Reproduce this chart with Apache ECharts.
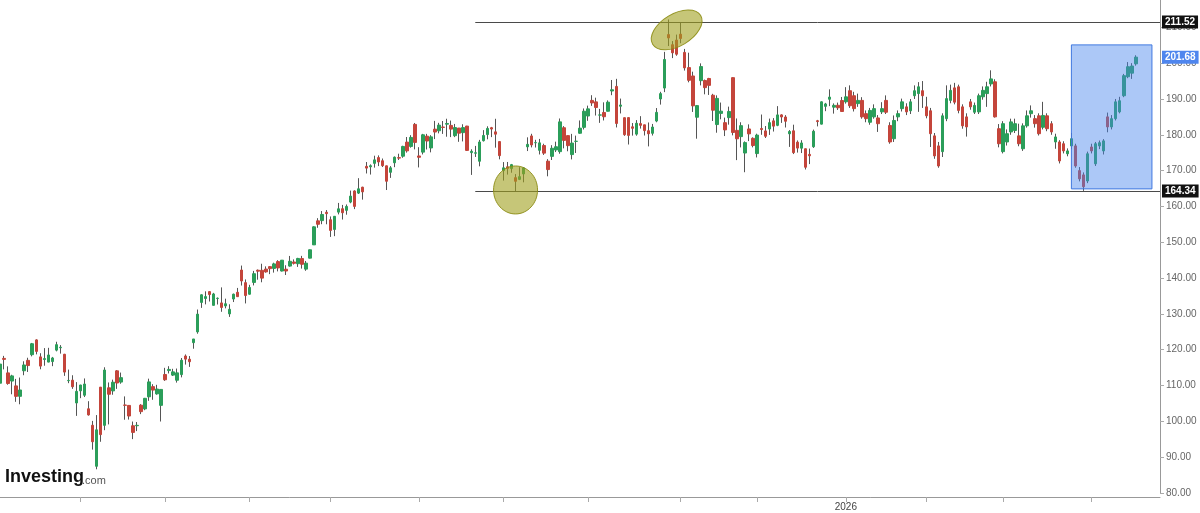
<!DOCTYPE html>
<html>
<head>
<meta charset="utf-8">
<script src="https://cdn.jsdelivr.net/npm/echarts@6/dist/echarts.min.js"></script>
<style>
html,body{margin:0;padding:0;background:#fff;}
#chart{width:1200px;height:513px;}
</style>
</head>
<body>
<div id="chart"></div>
<script>
// Daily candles [open, high, low, close]
const mar25 = [
[110.65,119.31,110.11,115.99],[117.58,118.28,114.51,117.30],[113.53,115.35,110.22,110.57],[111.25,113.00,107.56,112.69],
[109.90,111.85,105.46,106.98],[106.99,112.23,104.77,108.76],[114.12,116.77,112.88,115.74],[117.03,117.76,113.79,115.58],
[118.61,121.89,118.15,121.67],[122.74,122.90,118.70,119.53],[118.00,119.02,114.54,115.43],[117.27,120.45,115.53,117.52],
[116.55,120.53,116.50,118.53],[116.70,117.99,115.41,117.70],[119.88,122.22,119.54,121.41],[120.55,121.29,118.91,120.69],
[118.73,118.84,112.70,113.76],[111.35,114.45,110.66,111.43],[111.49,112.87,109.07,109.67],[105.13,110.96,101.53,108.38]];
const apr25 = [
[108.52,110.20,106.47,110.15],[107.29,111.98,106.79,110.42],[103.51,105.63,101.60,101.80],[98.91,100.13,92.11,94.31],
[87.46,101.75,86.62,97.64],[109.55,109.60,94.30,96.30],[98.89,115.10,97.53,114.33],[109.37,110.86,99.15,107.57],
[108.50,111.65,107.43,110.93],[114.11,114.29,109.07,110.71],[110.97,113.62,110.50,112.20],[104.55,106.97,100.45,104.49],
[104.45,104.47,100.50,101.49],[98.77,99.95,95.04,96.91],[98.78,99.81,97.28,98.89],[104.52,104.80,102.02,102.71],
[103.48,106.54,103.11,106.43],[106.85,111.92,105.73,111.01],[109.69,110.37,106.02,108.73],[107.67,110.20,107.44,109.02],
[104.47,108.92,99.96,108.92]];
const may25 = [
[113.08,114.94,111.30,111.61],[114.18,115.40,113.37,114.50],[112.91,114.67,112.66,113.82],[111.48,114.74,110.82,113.54],
[113.05,117.68,112.28,117.06],[118.25,118.68,115.85,117.37],[117.35,118.23,115.21,116.65],[121.97,123.00,120.28,123.00],
[124.98,131.22,124.47,129.93],[133.20,135.44,131.68,135.34],[134.30,136.30,132.66,134.83],[136.22,136.35,133.46,135.40],
[132.39,135.87,132.39,135.57],[134.29,134.58,132.62,134.38],[133.06,137.40,130.59,131.80],[132.23,134.25,131.55,132.83],
[130.00,132.68,129.16,131.29],[134.15,135.66,133.31,135.50],[136.03,137.25,134.79,134.81],[142.25,143.49,137.91,139.19],
[138.72,139.62,132.92,135.13]];
const jun25 = [
[135.49,138.12,135.40,137.38],[138.78,142.00,137.95,141.22],[142.19,142.39,139.55,141.92],[142.17,144.00,138.83,139.99],
[142.51,143.27,141.51,141.72],[143.19,143.28,141.10,142.63],[142.69,144.29,141.53,143.96],[144.61,144.99,141.87,142.83],
[141.97,145.00,141.85,145.00],[142.48,143.58,140.85,141.97],[143.35,146.18,143.20,144.69],[144.49,145.22,143.78,144.12],
[144.01,145.65,143.12,145.48],[145.45,146.20,142.65,143.85],[142.50,144.78,142.03,144.17],[145.56,147.96,145.50,147.90],
[149.27,154.45,149.26,154.31],[155.98,156.72,154.04,155.02],[156.04,158.71,155.04,157.75],[158.37,158.99,155.02,157.99]];
const jul25 = [
[156.29,157.20,151.49,153.30],[153.57,157.30,151.70,157.25],[158.41,160.98,157.78,159.34],[159.36,160.43,156.34,158.24],
[158.91,160.55,157.69,160.00],[161.22,164.42,160.89,162.88],[164.32,164.50,159.25,160.00],[163.72,167.89,163.47,164.92],
[165.37,165.49,161.90,164.07],[171.19,172.40,169.20,170.70],[171.06,171.75,168.90,171.37],[172.02,174.16,170.83,173.00],
[173.64,174.25,171.26,172.41],[172.75,173.38,171.00,171.38],[171.34,171.39,164.58,167.03],[169.53,171.26,167.97,170.78],
[172.19,173.95,170.96,173.74],[173.61,174.72,172.96,173.50],[174.02,176.94,173.58,176.75],[177.96,179.38,175.02,175.51],
[176.75,179.89,176.41,179.27],[182.90,183.30,175.93,177.87]];
const aug25 = [
[174.09,176.54,170.89,173.72],[175.16,180.26,174.52,180.00],[179.62,180.26,175.90,178.26],[176.33,179.89,175.10,179.42],
[181.57,183.88,178.80,180.77],[181.12,183.34,180.40,182.70],[182.16,183.85,180.25,182.06],[182.96,184.48,179.46,183.16],
[182.62,183.97,179.35,181.59],[179.75,183.03,179.35,182.02],[181.88,181.90,178.04,180.45],[180.60,182.94,178.15,182.01],
[182.43,182.50,175.49,175.64],[175.02,175.96,168.80,175.40],[174.85,176.90,173.81,174.98],[172.61,178.58,171.20,177.99],
[178.35,181.30,178.12,179.81],[180.06,182.37,178.74,181.77],[181.98,182.20,179.35,181.60],[180.82,184.47,176.41,180.17],
[178.11,178.15,173.15,174.18]];
const sep25 = [
[170.00,172.38,167.22,170.78],[171.06,172.41,168.89,170.62],[170.57,171.86,169.41,171.66],[168.03,169.03,164.30,167.02],
[167.55,170.96,167.35,168.31],[169.08,170.98,166.73,170.76],[176.64,179.29,175.46,177.33],[179.68,180.28,176.48,177.17],
[177.77,178.60,176.45,177.82],[175.67,178.85,174.51,177.75],[177.00,177.50,174.38,174.88],[172.64,173.20,168.41,170.29],
[173.98,177.10,172.96,176.24],[175.77,178.08,175.18,176.67],[175.30,184.55,174.71,183.61],[181.97,182.42,176.21,178.43],
[179.77,179.78,175.40,176.97],[174.48,180.26,173.13,177.69],[178.17,179.77,174.93,178.19],[180.43,184.00,180.32,181.85],
[182.08,187.35,181.48,186.58]];
const oct25 = [
[185.24,188.14,183.90,187.24],[189.60,191.05,188.06,188.89],[189.19,190.36,185.38,187.62],[185.50,187.23,183.33,185.54],
[186.23,189.06,184.00,185.04],[186.57,189.60,186.54,189.11],[192.23,195.30,191.06,192.57],[193.51,195.62,182.05,183.16],
[187.97,190.11,185.96,188.32],[184.77,184.80,179.70,180.03],[184.80,184.87,177.29,179.83],[182.23,183.28,179.77,181.81],
[180.18,184.10,179.75,183.22],[183.13,185.20,181.73,182.64],[182.79,182.79,179.80,181.16],[181.14,183.44,176.76,180.28],
[180.42,183.03,179.79,182.16],[183.84,187.47,183.50,186.26],[189.99,192.00,188.43,191.49],[193.05,203.15,191.91,201.03],
[207.98,212.19,204.78,207.04],[205.15,206.16,201.41,202.89],[206.45,207.97,202.07,202.49]];
const nov25 = [
[208.08,211.34,205.56,206.88],[203.00,203.97,197.93,198.69],[198.76,202.92,194.65,195.21],[196.42,197.62,186.38,188.08],
[184.90,188.32,178.91,188.15],[195.11,199.94,193.79,199.05],[195.16,195.42,191.30,193.16],[195.72,195.89,191.13,193.80],
[191.05,191.44,183.85,186.86],[182.86,191.01,180.58,190.17],[185.97,189.00,184.32,186.60],[183.38,184.80,179.65,181.36],
[184.79,187.86,182.83,186.52],[195.95,196.00,179.85,180.64],[181.24,184.56,172.93,178.88],[179.49,183.50,176.48,182.55],
[174.91,178.16,169.55,177.82],[181.63,182.91,178.24,180.26],[179.01,179.29,176.50,177.00]];
const dec25 = [
[174.76,180.30,173.68,179.92],[181.76,185.66,180.00,181.46],[181.08,182.45,179.11,179.59],[181.62,184.52,179.96,183.38],
[183.89,184.66,180.91,182.41],[182.64,188.00,182.40,185.55],[185.56,185.72,183.32,184.97],[184.97,185.48,182.04,183.78],
[180.28,181.32,176.62,180.93],[181.11,182.82,174.62,175.02],[177.94,178.42,175.03,176.29],[176.26,178.49,174.90,177.72],
[176.10,176.13,170.31,170.94],[174.53,176.15,171.82,174.14],[176.67,181.45,176.34,180.99],[183.92,184.16,182.35,183.69],
[182.97,189.33,182.90,189.21],[187.94,188.91,186.59,188.61],[189.92,192.69,188.00,190.53],[187.71,188.76,185.91,188.22],
[188.24,188.99,186.93,187.54],[189.57,190.56,186.49,186.50]];
const jan26 = [
[189.2,193.3,188.7,190.6],[192.3,193.8,187.5,188.1],[190.9,192.0,186.5,187.3],[188.7,191.5,187.8,189.6],
[189.6,190.5,184.5,185.0],[185.9,186.8,183.5,184.5],[183.5,187.5,182.8,186.8],[185.0,188.5,184.5,187.3],
[184.7,185.5,180.8,183.1],[186.4,189.1,185.8,187.3],[189.6,191.0,185.8,186.3],[182.6,183.5,177.5,178.0],
[178.9,185.4,178.0,184.0],[185.0,186.8,183.8,185.9],[187.3,190.1,186.5,189.2],[187.8,188.8,185.5,186.4],
[186.7,190.0,185.8,189.2],[190.9,193.8,190.0,192.3],[191.5,194.7,186.4,193.4],[192.3,195.0,187.5,190.9]];
const feb26 = [
[187.8,190.6,184.6,185.3],[186.7,187.5,176.6,180.3],[179.7,180.5,173.3,174.1],[176.9,178.0,170.8,171.3],
[175.3,186.0,173.8,185.3],[184.5,193.8,183.8,190.1],[189.6,194.0,188.8,192.4],[193.1,194.5,188.5,189.1],
[193.4,194.0,186.0,186.8],[187.8,188.5,181.7,182.5],[185.0,186.0,179.5,182.2],[189.2,190.0,187.0,187.8],
[186.3,189.0,185.8,188.2],[186.4,191.5,185.8,190.9],[190.6,193.5,189.8,192.4],[191.5,194.8,187.8,193.4],
[194.2,198.0,193.5,195.6],[194.8,195.5,184.8,185.0],[181.7,183.0,176.5,177.5]];
const mar26 = [
[175.3,183.8,174.8,183.1],[178.0,181.5,177.0,180.3],[180.8,184.5,180.0,183.6],[181.2,184.5,180.5,183.1],
[179.7,183.1,176.8,177.5],[176.1,183.2,175.5,182.5],[182.5,186.8,182.0,185.3],[185.9,188.2,184.8,186.7],
[184.5,185.5,182.0,183.1],[185.3,186.0,179.8,180.3],[182.1,189.2,181.5,185.4],[185.3,186.0,181.0,181.7],
[183.1,183.8,180.0,180.8],[178.0,180.3,176.1,179.4],[178.0,178.5,172.0,172.7],[177.5,178.2,174.8,175.5],
[174.7,176.2,174.0,175.5],[176.9,180.5,176.0,178.9],[176.9,177.5,170.8,171.3],[170.0,171.0,167.0,167.7],
[168.8,169.5,164.34,165.5],[167.1,175.3,166.5,174.7]];
const apr26 = [
[176.6,177.5,174.8,175.5],[171.9,178.0,171.3,177.5],[176.9,178.4,176.0,177.8],[175.5,178.8,174.5,178.3],
[185.0,186.2,180.7,182.2],[182.2,185.5,181.5,184.5],[184.5,190.0,184.0,189.2],[186.4,190.6,186.0,189.5],
[190.9,197.0,190.5,196.5],[196.2,200.3,195.8,199.0],[197.2,200.0,195.6,199.2],[199.8,202.2,199.3,201.68]];

// Annotation levels
const resistance = 211.52;
const support = 164.34;
const lastPrice = 201.68;
const yTicks = [80, 90, 100, 110, 120, 130, 140, 150, 160, 170, 180, 190, 200, 210];

// Trading calendar (weekdays, exchange holidays removed), plus a few empty slots on the right
const holidays = ['2025-04-18','2025-05-26','2025-06-19','2025-07-04','2025-09-01','2025-11-27','2025-12-25',
                  '2026-01-01','2026-01-19','2026-02-16','2026-04-03'];
const firstDay = '2025-03-04';
const slotCount = 289;

const ohlc = [].concat(mar25, apr25, may25, jun25, jul25, aug25, sep25, oct25, nov25, dec25, jan26, feb26, mar26, apr26);

function pad(n){return n<10?'0'+n:''+n;}
const dates = [];
{
  const d = new Date(firstDay + 'T12:00:00Z');
  while (dates.length < slotCount) {
    const wd = d.getUTCDay();
    const s = d.getUTCFullYear() + '-' + pad(d.getUTCMonth()+1) + '-' + pad(d.getUTCDate());
    if (wd !== 0 && wd !== 6 && holidays.indexOf(s) < 0) dates.push(s);
    d.setUTCDate(d.getUTCDate() + 1);
  }
}
const monthStart = new Set();
for (let i = 1; i < dates.length; i++) {
  if (dates[i].slice(0,7) !== dates[i-1].slice(0,7)) monthStart.add(i);
}
const yearStart = new Set();
for (let i = 1; i < dates.length; i++) {
  if (dates[i].slice(0,4) !== dates[i-1].slice(0,4)) yearStart.add(i);
}

// ECharts candlestick order: [open, close, low, high]
const wickData = ohlc.map(r => [r[0], r[3], r[2], r[1]]);
const bodyData = ohlc.map(r => [r[0], r[3], Math.min(r[0], r[3]), Math.max(r[0], r[3])]);

const UP = '#2b9e5a', DOWN = '#c4453b', WICK = '#555';
const FONT = '"Liberation Sans", Arial, sans-serif';

const chart = echarts.init(document.getElementById('chart'), null, {renderer: 'canvas'});

const tagLabel = (bg, txt) => ({
  show: true, position: 'end', distance: 2, formatter: txt,
  backgroundColor: bg, color: '#fff', fontSize: 10, fontWeight: 'bold', fontFamily: FONT,
  padding: [2, 3, 1, 3]
});

chart.setOption({
  animation: false,
  backgroundColor: '#fff',
  grid: {left: 0, right: 40, top: 0, bottom: 20, containLabel: false},
  xAxis: {
    type: 'category', data: dates, boundaryGap: false, offset: 4,
    axisLine: {show: true, lineStyle: {color: '#999', width: 1}},
    axisTick: {show: true, length: 5, lineStyle: {color: '#aaa'}, interval: (i) => monthStart.has(i)},
    axisLabel: {
      interval: (i) => yearStart.has(i),
      formatter: (v) => v.slice(0,4),
      color: '#444', fontSize: 10, fontFamily: FONT, margin: 5
    },
    splitLine: {show: false}
  },
  yAxis: {
    type: 'value', position: 'right', min: 80, max: 217.63, interval: 10, scale: false,
    axisLine: {show: true, lineStyle: {color: '#999'}},
    axisTick: {show: true, length: 4, lineStyle: {color: '#aaa'}},
    axisLabel: {
      showMaxLabel: false, color: '#666', fontSize: 10, fontFamily: FONT, margin: 6,
      formatter: (v) => yTicks.indexOf(v) >= 0 ? v.toFixed(2) : ''
    },
    splitLine: {show: false}
  },
  series: [
    {
      type: 'candlestick', name: 'wick', data: wickData, barWidth: 1, z: 2,
      itemStyle: {color: WICK, color0: WICK, borderColor: WICK, borderColor0: WICK, borderWidth: 1}
    },
    {
      type: 'candlestick', name: 'body', data: bodyData, barWidth: 3, z: 3,
      itemStyle: {color: UP, color0: DOWN, borderColor: UP, borderColor0: DOWN, borderWidth: 1},
      markLine: {
        silent: true, symbol: ['none', 'none'], z: 6,
        lineStyle: {color: '#4a4a4a', width: 1, type: 'solid'},
        data: [
          [{coord: [dates[118], resistance], label: tagLabel('#111', resistance.toFixed(2))}, {coord: [dates[288], resistance]}],
          [{coord: [dates[118], support], label: tagLabel('#111', support.toFixed(2))}, {coord: [dates[288], support]}],
          {yAxis: lastPrice, lineStyle: {color: 'rgba(0,0,0,0)', width: 0}, label: tagLabel('#4f86ee', lastPrice.toFixed(2))}
        ]
      },
      markArea: {
        silent: true, z: 10,
        itemStyle: {color: 'rgba(72,133,237,0.45)', borderColor: '#3f78e0', borderWidth: 1},
        data: [[{coord: [dates[266], 205.1]}, {coord: [dates[286], 164.9]}]]
      }
    }
  ]
});

const p1 = chart.convertToPixel({gridIndex: 0}, [dates[128], 164.6]);
const p2 = chart.convertToPixel({gridIndex: 0}, [dates[168], 209.3]);
chart.setOption({
  graphic: [
    {type: 'ellipse', x: p1[0], y: p1[1], z: 100, silent: true,
     shape: {cx: 0, cy: 0, rx: 22, ry: 24},
     style: {fill: 'rgba(160,160,30,0.6)', stroke: 'rgba(140,140,20,0.9)', lineWidth: 1}},
    {type: 'ellipse', x: p2[0], y: p2[1], rotation: 0.54, z: 100, silent: true,
     shape: {cx: 0, cy: 0, rx: 28, ry: 16},
     style: {fill: 'rgba(160,160,30,0.6)', stroke: 'rgba(140,140,20,0.9)', lineWidth: 1}},
    {type: 'text', left: 5, top: 468, z: 100, silent: true,
     style: {text: 'Investing', fill: '#111', font: 'bold 18px ' + FONT}},
    {type: 'text', left: 82, top: 475, z: 100, silent: true,
     style: {text: '.com', fill: '#555', font: '11px ' + FONT}}
  ]
});
</script>
</body>
</html>
